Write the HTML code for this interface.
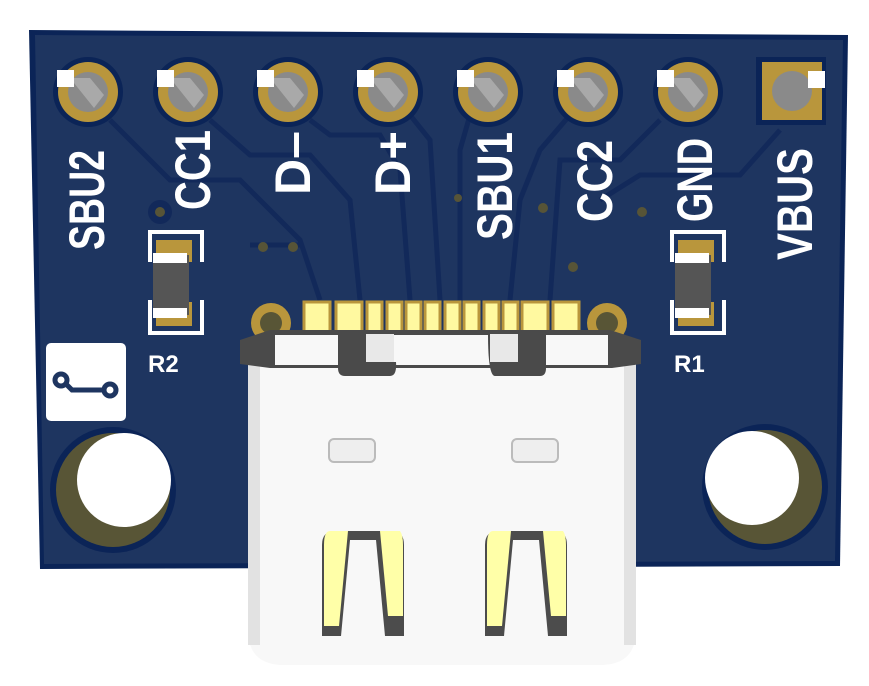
<!DOCTYPE html>
<html><head><meta charset="utf-8"><style>
html,body{margin:0;padding:0;background:#fff;width:869px;height:686px;overflow:hidden}
svg{display:block}
text{font-family:"Liberation Sans",sans-serif;font-weight:bold;fill:#fff}
</style></head><body>
<svg width="869" height="686" viewBox="0 0 869 686" xmlns="http://www.w3.org/2000/svg">
<polygon points="29,30 848,35 840,566 40,569" fill="#0b2457"/>
<polygon points="35,35 843,40 835,561 44,564" fill="#1e3560"/>
<g fill="none" stroke="#12295a" stroke-width="5">
<path d="M110,120 L170,180 L240,180 L300,240 L320,300"/>
<path d="M210,120 L250,155 L310,155 L350,200 L360,300"/>
<path d="M310,120 L330,135 L380,135 L400,170 L410,300"/>
<path d="M410,115 L430,140 L440,300"/>
<path d="M470,115 L460,150 L460,300"/>
<path d="M570,115 L540,150 L520,200 L510,300"/>
<path d="M660,120 L620,160 L560,160 L550,300"/>
<path d="M780,130 L740,175 L640,175 L600,200"/>
<path d="M250,245 L300,245"/>
</g>
<circle cx="160" cy="212" r="12" fill="#12295a"/>
<g fill="#575437"><circle cx="160" cy="212" r="5"/><circle cx="263" cy="247" r="5"/><circle cx="293" cy="247" r="5"/><circle cx="543" cy="208" r="5"/><circle cx="573" cy="267" r="5"/><circle cx="642" cy="212" r="5"/><circle cx="458" cy="198" r="4"/></g>
<!-- pins -->
<g>
<g id="p"><circle cx="88" cy="92" r="35" fill="#0b2457"/><circle cx="88" cy="92" r="30" fill="#b9963c"/><circle cx="88" cy="92" r="20" fill="#8a8a8a"/><path d="M70,78 L90,78 L104,95 L94,108 Z" fill="#a9a9a9"/><rect x="57" y="70" width="17" height="17" fill="#fff"/></g>
<use href="#p" x="100"/><use href="#p" x="200"/><use href="#p" x="300"/><use href="#p" x="400"/><use href="#p" x="500"/><use href="#p" x="600"/>
<rect x="756" y="57" width="70" height="68" fill="#0b2457"/>
<rect x="762" y="62" width="60" height="58" fill="#b9963c"/>
<circle cx="792" cy="91" r="20" fill="#8a8a8a"/>
<rect x="808" y="71" width="17" height="17" fill="#fff"/>
</g>
<!-- labels -->
<g font-size="50">
<text transform="translate(104,250) rotate(-90)" textLength="100" lengthAdjust="spacingAndGlyphs">SBU2</text>
<text transform="translate(210,210) rotate(-90)" textLength="80" lengthAdjust="spacingAndGlyphs">CC1</text>
<text transform="translate(310,195) rotate(-90)" textLength="64" lengthAdjust="spacingAndGlyphs">D–</text>
<text transform="translate(410,195) rotate(-90)" textLength="64" lengthAdjust="spacingAndGlyphs">D+</text>
<text transform="translate(512,240) rotate(-90)" textLength="108" lengthAdjust="spacingAndGlyphs">SBU1</text>
<text transform="translate(612,222) rotate(-90)" textLength="82" lengthAdjust="spacingAndGlyphs">CC2</text>
<text transform="translate(712,222) rotate(-90)" textLength="84" lengthAdjust="spacingAndGlyphs">GND</text>
<text transform="translate(812,260) rotate(-90)" textLength="112" lengthAdjust="spacingAndGlyphs">VBUS</text>
</g>
<!-- resistors -->
<g id="r">
<path d="M150,262 V232 H202 V262 M150,300 V333 H202 V300" fill="none" stroke="#fff" stroke-width="4"/>
<rect x="156" y="240" width="36" height="22" fill="#b9963c"/>
<rect x="156" y="302" width="36" height="24" fill="#b9963c"/>
<rect x="153" y="255" width="36" height="60" fill="#555"/>
<rect x="153" y="253" width="34" height="10" fill="#fff"/>
<rect x="153" y="308" width="34" height="10" fill="#fff"/>
</g>
<use href="#r" x="522"/>
<text x="148" y="372" font-size="24">R2</text>
<text x="674" y="372" font-size="24">R1</text>
<!-- icon -->
<rect x="46" y="343" width="80" height="78" rx="5" fill="#fff"/>
<g fill="none" stroke="#1e3560" stroke-width="5"><circle cx="61" cy="380" r="6"/><circle cx="110" cy="390" r="6"/><path d="M66,384 L72,390 L104,390"/></g>
<!-- holes -->
<circle cx="113" cy="490" r="63" fill="#0b2457"/>
<circle cx="113" cy="490" r="57" fill="#585536"/>
<circle cx="124" cy="480" r="47" fill="#fff"/>
<circle cx="765" cy="487" r="63" fill="#0b2457"/>
<circle cx="765" cy="487" r="57" fill="#585536"/>
<circle cx="752" cy="478" r="47" fill="#fff"/>
<!-- connector side pads -->
<circle cx="271" cy="323" r="20" fill="#b9963c"/><circle cx="271" cy="323" r="11" fill="#585536"/>
<circle cx="607" cy="323" r="20" fill="#b9963c"/><circle cx="607" cy="323" r="11" fill="#585536"/>
<!-- contact pads -->
<g fill="#fff9a0" stroke="#b9963c" stroke-width="3">
<rect x="304" y="302" width="26" height="30"/><rect x="336" y="302" width="26" height="30"/>
<rect x="367" y="302" width="15" height="30"/><rect x="387" y="302" width="15" height="30"/>
<rect x="406" y="302" width="15" height="30"/><rect x="425" y="302" width="15" height="30"/>
<rect x="445" y="302" width="15" height="30"/><rect x="464" y="302" width="15" height="30"/>
<rect x="484" y="302" width="15" height="30"/><rect x="503" y="302" width="15" height="30"/>
<rect x="522" y="302" width="26" height="30"/><rect x="553" y="302" width="26" height="30"/>
</g>
<!-- connector body -->
<path d="M248,340 H636 V630 Q636,665 600,665 H284 Q248,665 248,630 Z" fill="#f8f8f8"/>
<rect x="248" y="365" width="12" height="280" fill="#e2e2e2"/>
<rect x="624" y="365" width="12" height="280" fill="#e2e2e2"/>
<path d="M240,340 L270,330 H610 L641,340 V364 L612,368 H270 L240,364 Z" fill="#4a4a4a"/>
<rect x="275" y="335" width="333" height="30" fill="#f8f8f8"/>
<path d="M338,334 H366 V362 H396 Q397,376 390,376 H345 Q338,376 338,368 Z" fill="#4a4a4a"/>
<rect x="366" y="334" width="28" height="28" fill="#e8e8e8"/>
<path d="M546,334 H488 Q488,376 495,376 H540 Q546,376 546,368 Z" fill="#4a4a4a"/>
<rect x="490" y="334" width="28" height="28" fill="#e8e8e8"/>
<rect x="329" y="439" width="46" height="23" rx="5" fill="#eee" stroke="#bbb" stroke-width="2"/>
<rect x="512" y="439" width="46" height="23" rx="5" fill="#eee" stroke="#bbb" stroke-width="2"/>
<g id="c">
<path d="M322,545 Q322,531 335,531 H392 Q404,531 404,545 V636 H322 Z" fill="#4c4c4c"/>
<path d="M330,531 H348 L339,626 H324 V545 Q324,531 330,531 Z" fill="#ffffa8"/>
<path d="M386,531 H400 Q403,535 403,545 V616 H388 L380,531 Z" fill="#ffffa8"/>
<path d="M350,540 H376 L385,636 H341 Z" fill="#f8f8f8"/>
</g>
<use href="#c" x="163"/>
</svg>
</body></html>
